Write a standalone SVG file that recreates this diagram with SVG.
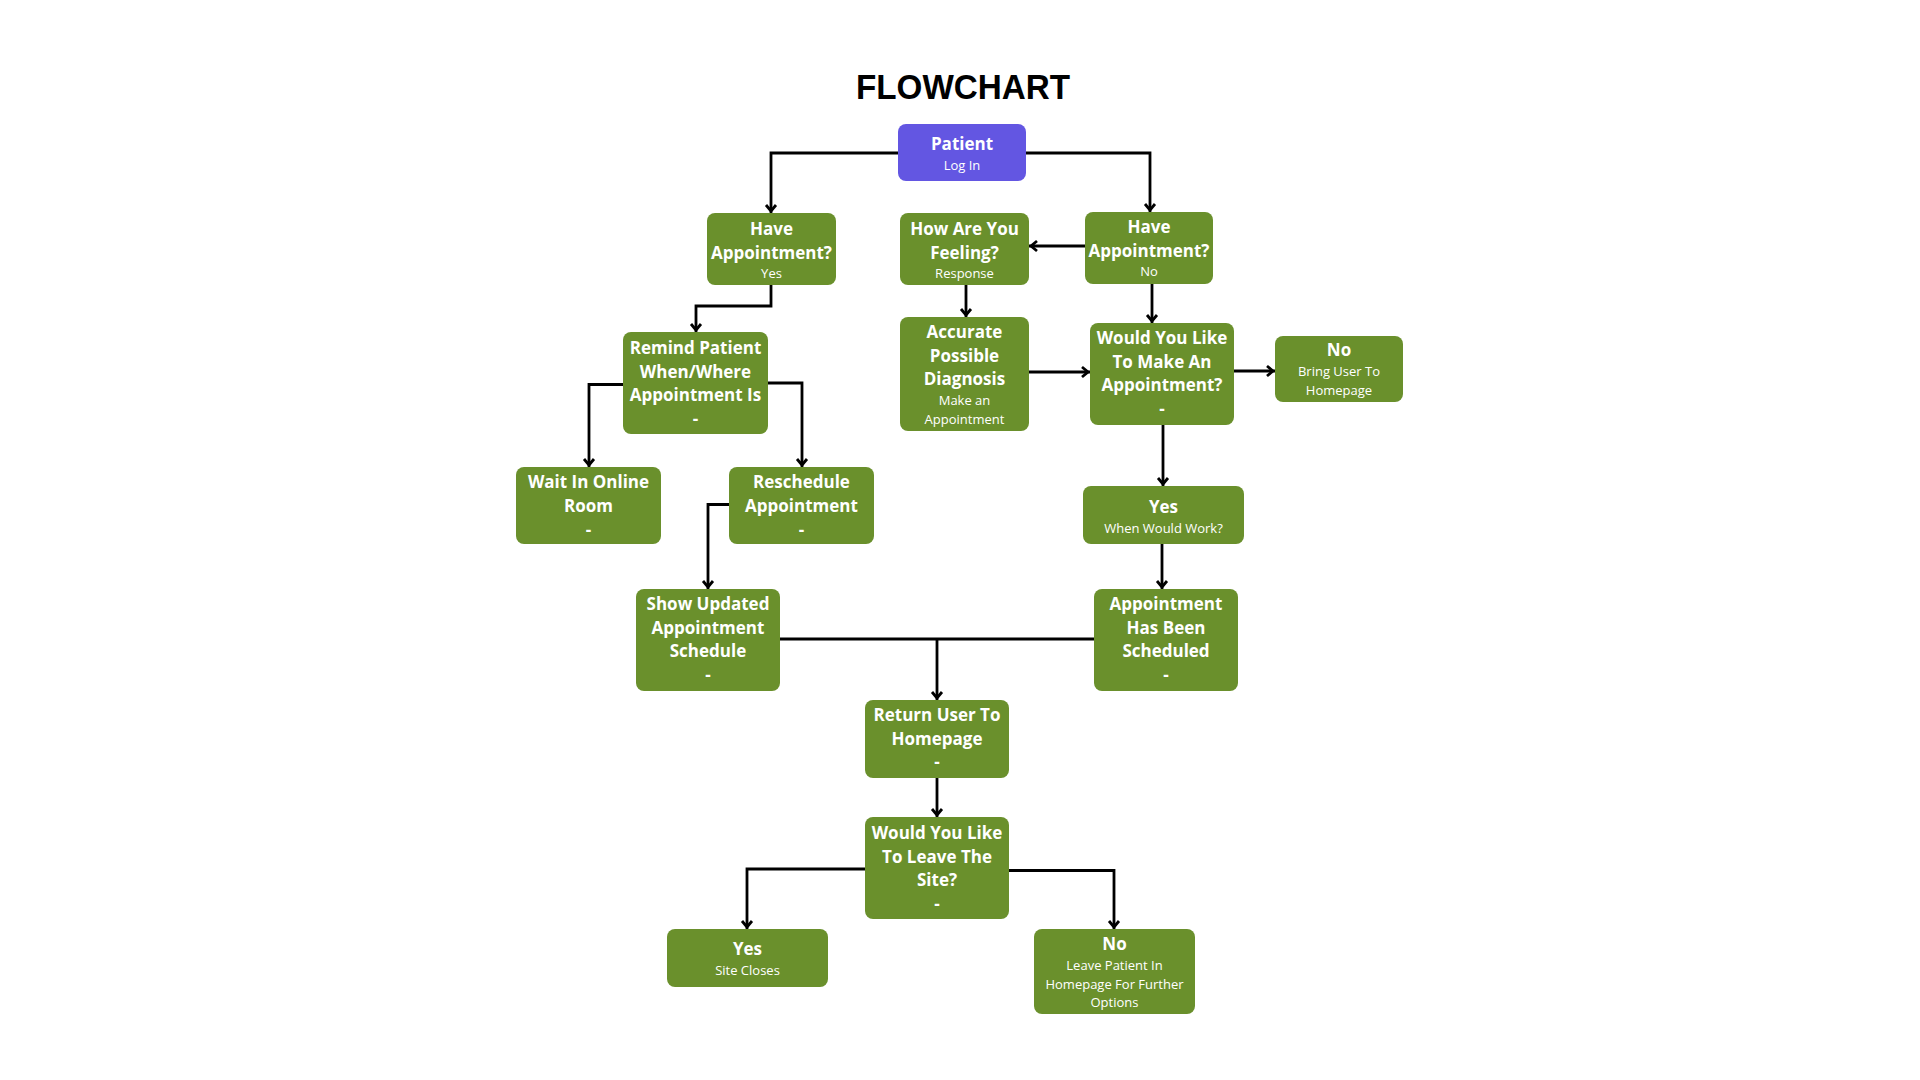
<svg xmlns="http://www.w3.org/2000/svg" width="1920" height="1080" viewBox="0 0 1920 1080">
<defs>
<style>
.box{fill:#6a902c;}
.purple{fill:#6356e2;}
.b{font-family:"Open Sans","Liberation Sans",sans-serif;font-weight:700;font-size:17px;fill:#ffffff;text-anchor:middle;}
.s{font-family:"Open Sans","Liberation Sans",sans-serif;font-weight:400;font-size:13px;fill:#ffffff;text-anchor:middle;}
.title{font-family:"Liberation Sans",Arial,sans-serif;font-weight:700;font-size:35px;fill:#000000;text-anchor:middle;}
.conn path{fill:none;stroke:#000000;stroke-width:2.8;marker-end:url(#arr);}
.conn path.plain{marker-end:none;}
</style>
<marker id="arr" markerUnits="userSpaceOnUse" markerWidth="16" markerHeight="16" viewBox="-10 -8 16 16" refX="0" refY="0" orient="auto" overflow="visible">
<path d="M-8,-5 L-2,0 L-8,5" fill="none" stroke="#000000" stroke-width="2.8"/>
</marker>
</defs>
<rect x="0" y="0" width="1920" height="1080" fill="#ffffff"/>
<text id="title" class="title" x="963" y="99" textLength="214" lengthAdjust="spacingAndGlyphs">FLOWCHART</text>

<g id="connectors" class="conn">
<path d="M898,153 H771 V213"/>
<path d="M1026,153 H1150 V212"/>
<path d="M771,285 V306 H696 V332"/>
<path d="M1085,246 H1029"/>
<path d="M966,285 V317"/>
<path d="M1152,284 V323"/>
<path d="M1029,372 H1090"/>
<path d="M1234,371 H1275"/>
<path d="M1163,425 V486"/>
<path d="M623,384.5 H589 V467"/>
<path d="M768,383 H802 V467"/>
<path d="M729,504.5 H708 V589"/>
<path d="M1162,544 V589"/>
<path class="plain" d="M780,639 H1094"/>
<path d="M937,639 V700"/>
<path d="M937,778 V817"/>
<path d="M865,869 H747 V929"/>
<path d="M1009,870.5 H1114 V929"/>
</g>

<g id="n-patient"><rect class="purple" x="898" y="124" width="128" height="57" rx="8"/><text class="b" x="962" y="150">Patient</text><text class="s" x="962" y="170">Log In</text></g>

<g id="n-have-yes"><rect class="box" x="707" y="213" width="129" height="72" rx="8"/><text class="b" x="771.5" y="235">Have</text><text class="b" x="771.5" y="259">Appointment?</text><text class="s" x="771.5" y="278">Yes</text></g>

<g id="n-feeling"><rect class="box" x="900" y="213" width="129" height="72" rx="8"/><text class="b" x="964.5" y="235">How Are You</text><text class="b" x="964.5" y="259">Feeling?</text><text class="s" x="964.5" y="278">Response</text></g>

<g id="n-have-no"><rect class="box" x="1085" y="212" width="128" height="72" rx="8"/><text class="b" x="1149" y="233">Have</text><text class="b" x="1149" y="257">Appointment?</text><text class="s" x="1149" y="276">No</text></g>

<g id="n-remind"><rect class="box" x="623" y="332" width="145" height="102" rx="8"/><text class="b" x="695.5" y="354">Remind Patient</text><text class="b" x="695.5" y="377.5">When/Where</text><text class="b" x="695.5" y="401">Appointment Is</text><text class="b" x="695.5" y="424.5">-</text></g>

<g id="n-diagnosis"><rect class="box" x="900" y="317" width="129" height="114" rx="8"/><text class="b" x="964.5" y="338">Accurate</text><text class="b" x="964.5" y="361.5">Possible</text><text class="b" x="964.5" y="385">Diagnosis</text><text class="s" x="964.5" y="405">Make an</text><text class="s" x="964.5" y="423.5">Appointment</text></g>

<g id="n-make-appt"><rect class="box" x="1090" y="323" width="144" height="102" rx="8"/><text class="b" x="1162" y="344">Would You Like</text><text class="b" x="1162" y="367.5">To Make An</text><text class="b" x="1162" y="391">Appointment?</text><text class="b" x="1162" y="414.5">-</text></g>

<g id="n-no-home"><rect class="box" x="1275" y="336" width="128" height="66" rx="8"/><text class="b" x="1339" y="356">No</text><text class="s" x="1339" y="376">Bring User To</text><text class="s" x="1339" y="394.5">Homepage</text></g>

<g id="n-wait"><rect class="box" x="516" y="467" width="145" height="77" rx="8"/><text class="b" x="588.5" y="488">Wait In Online</text><text class="b" x="588.5" y="512">Room</text><text class="b" x="588.5" y="535.5">-</text></g>

<g id="n-reschedule"><rect class="box" x="729" y="467" width="145" height="77" rx="8"/><text class="b" x="801.5" y="488">Reschedule</text><text class="b" x="801.5" y="512">Appointment</text><text class="b" x="801.5" y="535.5">-</text></g>

<g id="n-yes-when"><rect class="box" x="1083" y="486" width="161" height="58" rx="8"/><text class="b" x="1163.5" y="513">Yes</text><text class="s" x="1163.5" y="533">When Would Work?</text></g>

<g id="n-show-updated"><rect class="box" x="636" y="589" width="144" height="102" rx="8"/><text class="b" x="708" y="610">Show Updated</text><text class="b" x="708" y="633.5">Appointment</text><text class="b" x="708" y="657">Schedule</text><text class="b" x="708" y="680.5">-</text></g>

<g id="n-scheduled"><rect class="box" x="1094" y="589" width="144" height="102" rx="8"/><text class="b" x="1166" y="610">Appointment</text><text class="b" x="1166" y="633.5">Has Been</text><text class="b" x="1166" y="657">Scheduled</text><text class="b" x="1166" y="680.5">-</text></g>

<g id="n-return"><rect class="box" x="865" y="700" width="144" height="78" rx="8"/><text class="b" x="937" y="721">Return User To</text><text class="b" x="937" y="744.5">Homepage</text><text class="b" x="937" y="768">-</text></g>

<g id="n-leave"><rect class="box" x="865" y="817" width="144" height="102" rx="8"/><text class="b" x="937" y="839">Would You Like</text><text class="b" x="937" y="862.5">To Leave The</text><text class="b" x="937" y="886">Site?</text><text class="b" x="937" y="909.5">-</text></g>

<g id="n-yes-close"><rect class="box" x="667" y="929" width="161" height="58" rx="8"/><text class="b" x="747.5" y="955">Yes</text><text class="s" x="747.5" y="975">Site Closes</text></g>

<g id="n-no-stay"><rect class="box" x="1034" y="929" width="161" height="85" rx="8"/><text class="b" x="1114.5" y="950">No</text><text class="s" x="1114.5" y="970">Leave Patient In</text><text class="s" x="1114.5" y="988.5">Homepage For Further</text><text class="s" x="1114.5" y="1006.5">Options</text></g>
</svg>
